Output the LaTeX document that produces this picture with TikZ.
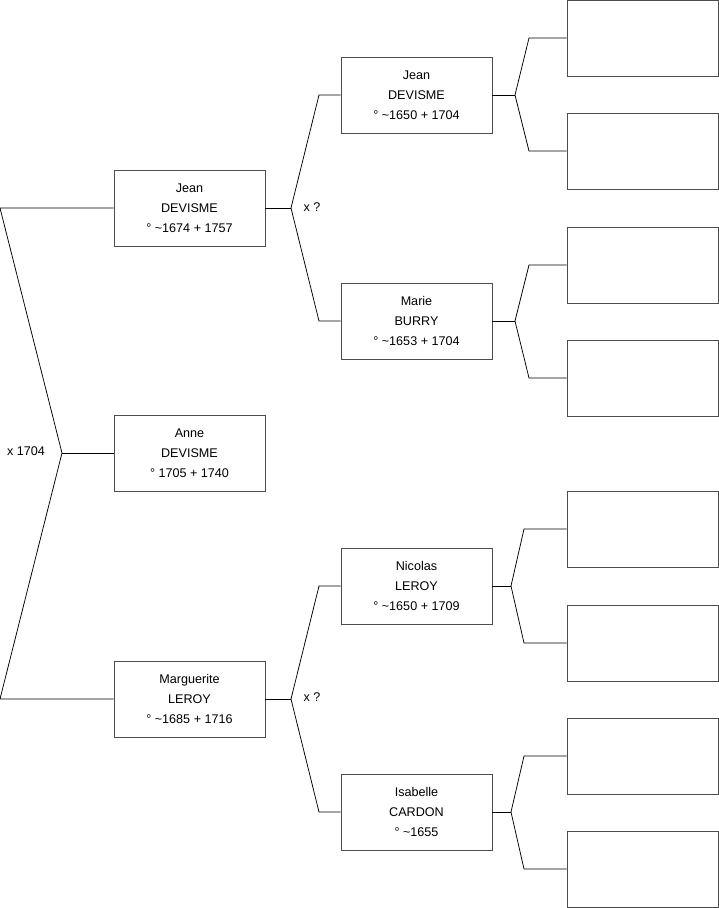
\documentclass[tikz,border=0pt]{standalone}
\usepackage{fontspec}
\setmainfont{Liberation Sans}

\begin{document}
\begin{tikzpicture}[
    x=1pt, y=-1pt,
    person/.style={
        draw=black!70,
        line width=0.8pt,
        minimum width=151pt,
        minimum height=76pt,
        inner sep=0pt,
        align=center,
        font=\fontsize{12.6}{20}\selectfont
    },
    link/.style={black, line width=0.75pt},
    union/.style={font=\fontsize{12.6}{14}\selectfont}
]
\useasboundingbox (0,0) rectangle (719,908);

% Nodes
\node[person] (jean) at (189.5,208) {Jean\\DEVISME\\° \textasciitilde1674 + 1757};
\node[person] (anne) at (189.5,453) {Anne\\DEVISME\\° 1705 + 1740};
\node[person] (marg) at (189.5,699) {Marguerite\\LEROY\\° \textasciitilde1685 + 1716};

\node[person] (jeanp) at (416.5,95) {Jean\\DEVISME\\° \textasciitilde1650 + 1704};
\node[person] (marie) at (416.5,321) {Marie\\BURRY\\° \textasciitilde1653 + 1704};
\node[person] (nicolas) at (416.5,586) {Nicolas\\LEROY\\° \textasciitilde1650 + 1709};
\node[person] (isab) at (416.5,812) {Isabelle\\CARDON\\° \textasciitilde1655};

\foreach \n/\y in {1/38, 2/151, 3/265, 4/378, 5/529, 6/643, 7/756, 8/869}
    \node[person] (e\n) at (642.6,\y) {};

% Forks
\coordinate (top) at (0,208);
\coordinate (mid) at (62,453);
\coordinate (bot) at (0,699);
\node[union] (m0) at (26,451) {x 1704};

\coordinate (fa) at (291,208);
\coordinate (fa1) at (319,95);
\coordinate (fa2) at (319,321);
\node[union] (m1) at (312,207) {x ?};

\coordinate (fb) at (291,699);
\coordinate (fb1) at (319,586);
\coordinate (fb2) at (319,812);
\node[union] (m2) at (312,697) {x ?};

\coordinate (f1) at (515,95);
\coordinate (f2) at (515,321);
\coordinate (f3) at (511,586);
\coordinate (f4) at (511,812);

% Lines
\draw[link] (jean.west) -- (top) -- (mid) -- (bot) -- (marg.west);
\draw[link] (mid) -- (anne.west);

\draw[link] (jean.east) -- (fa);
\draw[link] (jeanp.west) -- (fa1) -- (fa) -- (fa2) -- (marie.west);
\draw[link] (marg.east) -- (fb);
\draw[link] (nicolas.west) -- (fb1) -- (fb) -- (fb2) -- (isab.west);

\draw[link] (jeanp.east) -- (f1);
\draw[link] (e1.west) -- (529,38) -- (f1) -- (529,151) -- (e2.west);
\draw[link] (marie.east) -- (f2);
\draw[link] (e3.west) -- (529,265) -- (f2) -- (529,378) -- (e4.west);
\draw[link] (nicolas.east) -- (f3);
\draw[link] (e5.west) -- (524,529) -- (f3) -- (524,643) -- (e6.west);
\draw[link] (isab.east) -- (f4);
\draw[link] (e7.west) -- (524,756) -- (f4) -- (524,869) -- (e8.west);

\end{tikzpicture}
\end{document}
